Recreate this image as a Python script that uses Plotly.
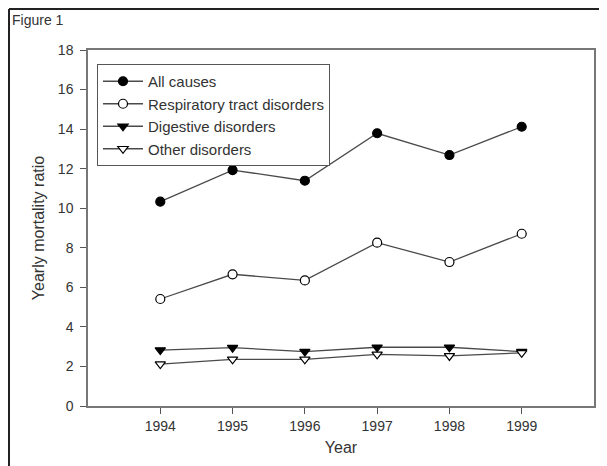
import plotly.graph_objects as go

years = [1994, 1995, 1996, 1997, 1998, 1999]
all_causes = [10.33, 11.93, 11.39, 13.79, 12.69, 14.12]
respiratory = [5.41, 6.66, 6.35, 8.26, 7.28, 8.71]
digestive = [2.83, 2.95, 2.75, 2.97, 2.97, 2.75]
other = [2.12, 2.36, 2.36, 2.61, 2.53, 2.69]

series = [
    ("All causes", all_causes, "circle", "black"),
    ("Respiratory tract disorders", respiratory, "circle", "white"),
    ("Digestive disorders", digestive, "triangle-down", "black"),
    ("Other disorders", other, "triangle-down", "white"),
]

FONT = "Liberation Sans, Arial, sans-serif"
fig = go.Figure()
for name, vals, sym, fill in series:
    fig.add_trace(go.Scatter(
        x=years, y=vals, name=name, mode="lines+markers",
        line=dict(color="#4a4a4a", width=1.3),
        marker=dict(symbol=sym, size=9, color=fill,
                    line=dict(color="black", width=1.2)),
    ))

# page is offset by the browser's 8px body margin
OFF = 8
W, H = 607 - OFF, 466 - OFF
L, T = 88 - OFF, 50 - OFF
pw, ph = 506, 356
R, B = W - L - pw, H - T - ph

def px(x):  # page pixel -> paper
    return (x - OFF - L) / pw

def py(y):
    return (T + ph - (y - OFF)) / ph

fig.update_layout(
    width=W, height=H,
    margin=dict(l=L, r=R, t=T, b=B),
    paper_bgcolor="white", plot_bgcolor="white",
    font=dict(family=FONT, color="#333333", size=14),
    showlegend=True,
    legend=dict(
        x=px(97), y=py(64), xanchor="left", yanchor="top",
        bordercolor="#555555", borderwidth=1, bgcolor="white",
        font=dict(size=15, family=FONT, color="#333333"),
        tracegroupgap=0, itemwidth=40,
    ),
    xaxis=dict(
        range=[1993, 2000], tickvals=years, ticktext=[str(y) for y in years],
        showgrid=False, zeroline=False,
        showline=True, linecolor="#777777", linewidth=1.5, mirror=True,
        ticks="outside", ticklen=6, tickcolor="#555555",
        tickfont=dict(size=14),
        title=dict(text="Year", font=dict(size=16), standoff=9),
    ),
    yaxis=dict(
        range=[0, 18], tickvals=list(range(0, 19, 2)),
        showgrid=False, zeroline=False,
        showline=True, linecolor="#777777", linewidth=1.5, mirror=True,
        ticks="outside", ticklen=6, tickcolor="#555555",
        tickfont=dict(size=14), ticklabelstandoff=4,
        title=dict(text="Yearly mortality ratio", font=dict(size=16), standoff=9),
    ),
    shapes=[
        dict(type="line", xref="paper", yref="paper",
             x0=px(9), x1=px(9), y0=py(9), y1=py(480),
             line=dict(color="#222222", width=2)),
        dict(type="line", xref="paper", yref="paper",
             x0=px(9), x1=px(620), y0=py(9), y1=py(9),
             line=dict(color="#222222", width=2)),
    ],
    annotations=[
        dict(text="Figure 1", xref="paper", yref="paper",
             x=px(10), y=py(20), xanchor="left", yanchor="middle",
             showarrow=False, font=dict(size=14, color="#333333")),
    ],
)

fig.write_html("out.html")
